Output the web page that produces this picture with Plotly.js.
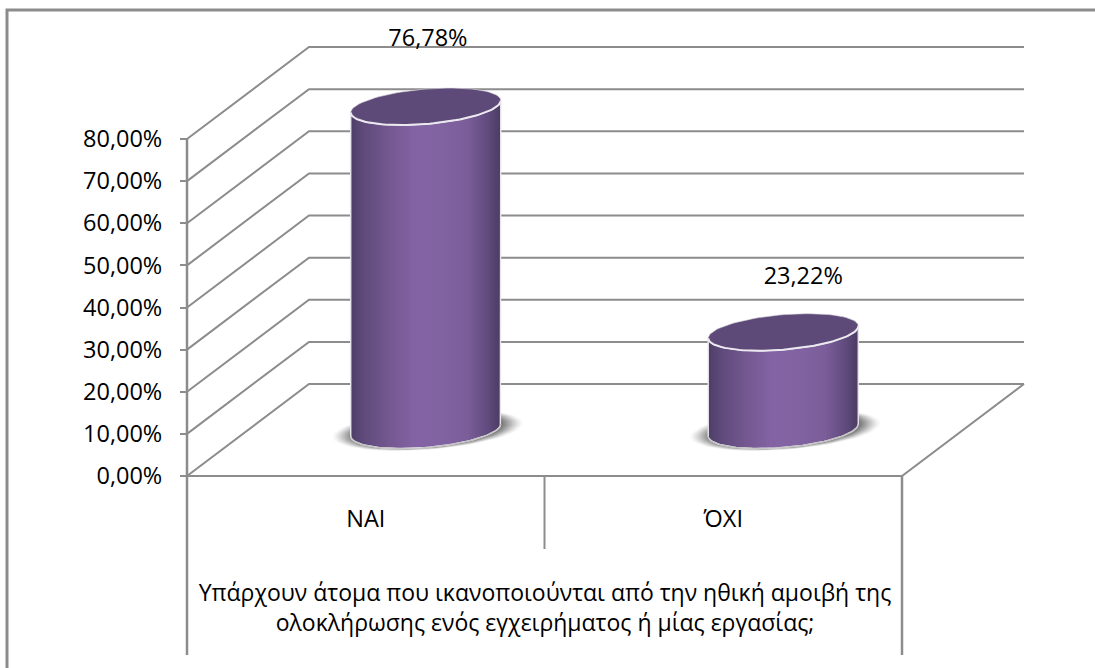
<!DOCTYPE html>
<html><head><meta charset="utf-8">
<script src="https://cdn.plot.ly/plotly-3.0.1.min.js"></script>
<style>html,body{margin:0;padding:0;background:#fff;overflow:hidden}#c{width:1095px;height:668px}</style>
</head><body><div id="c"></div>
<script>
const categories = ['ΝΑΙ', 'ΌΧΙ'];
const values = [76.78, 23.22];
const labelLift = [26.8, 23.8];
const labelShift = [0.006, 0.056];
const yTicks = [0, 10, 20, 30, 40, 50, 60, 70, 80];
const axisTitle = 'Υπάρχουν άτομα που ικανοποιούνται από την ηθική αμοιβή της<br>ολοκλήρωσης ενός εγχειρήματος ή μίας εργασίας;';

const FONT = '"Open Sans", sans-serif', FS = 23.5;
const GREY = '#8c8c8c';
const fmt = v => v.toFixed(2).replace('.', ',') + '%';
// plot geometry: the plot area spans the page, axes are placed at the chart's origin
const PW = 1090, PH = 668, OX = 187, OY = 476;
const ux = 357.5, uy = 337 / 80;
const dx = 122 / ux, dy = 92 / uy;            // depth of the 3D box
const offX = 60 / ux, offY = 46 / uy;         // cylinder centre inside depth
const A = 70.9, Bx = 24.5, By = 18.5;
const phi = Math.atan(Bx / A);

function ell(cx, cy, t, sa = 1, sb = 1) {
  return [cx + sa * (A * Math.cos(t) + Bx * Math.sin(t)) / ux,
          cy + sb * By * Math.sin(t) / uy];
}
function arc(cx, cy, t0, t1, n = 60, sa = 1, sb = 1) {
  const xs = [], ys = [];
  for (let i = 0; i <= n; i++) {
    const p = ell(cx, cy, t0 + (t1 - t0) * i / n, sa, sb);
    xs.push(p[0]); ys.push(p[1]);
  }
  return [xs, ys];
}
const line = (x, y, w, c) => ({x, y, mode: 'lines', line: {color: c || GREY, width: w || 2},
  hoverinfo: 'skip', showlegend: false});

const traces = [];
yTicks.forEach(v => {
  traces.push(line([0, dx, categories.length + dx], [v, v + dy, v + dy], 2));
});
traces.push(line([0, categories.length, categories.length + dx], [0, 0, dy], 2));
const lowY = -(655 - OY) / uy, midY = -(549 - OY) / uy;
traces.push(line([0, 0], [80, lowY], 2.5));
traces.push(line([1, 1], [0, midY], 2));
traces.push(line([2, 2], [0, lowY], 2.5));

values.forEach((v, i) => {
  const cx = i + 0.5 + offX;
  for (let k = 0; k < 16; k++) {
    const s = 1.27 - k * 0.018;
    const a = arc(cx + 2 / ux, offY, 0, 2 * Math.PI, 60, s, 1 + (s - 1) * 0.5);
    traces.push({x: a[0], y: a[1], mode: 'lines', fill: 'toself',
      fillcolor: `rgba(60,60,60,${0.02 + k * 0.006})`,
      line: {width: 0}, hoverinfo: 'skip', showlegend: false});
  }
  const top = arc(cx, offY + v, Math.PI + phi, 2 * Math.PI + phi);
  const bot = arc(cx, offY, 2 * Math.PI + phi, Math.PI + phi);
  traces.push({x: top[0].concat(bot[0], [top[0][0]]), y: top[1].concat(bot[1], [top[1][0]]),
    mode: 'lines', fill: 'toself', line: {color: '#e9e6ed', width: 1.4},
    fillgradient: {type: 'horizontal', colorscale: [
      [0, '#4d3d67'], [0.08, '#5e4a7a'], [0.25, '#73578f'], [0.42, '#8363a4'],
      [0.6, '#8263a2'], [0.78, '#7a5d99'], [0.92, '#5f4a7c'], [1, '#4b3b62']]},
    hoverinfo: 'skip', showlegend: false});
  traces.push(line(bot[0], bot[1], 1.2, '#c4c4c4'));
  const cap = arc(cx, offY + v, 0, 2 * Math.PI, 90);
  traces.push({x: cap[0], y: cap[1], mode: 'lines', fill: 'toself', fillcolor: '#5e4a78',
    line: {color: '#d9d5de', width: 0.6}, hoverinfo: 'skip', showlegend: false});
  traces.push(line(top[0], top[1], 2, '#ebe8ef'));
});

traces.push({
  x: values.map((v, i) => i + 0.5 + offX + labelShift[i]),
  y: values.map((v, i) => v + labelLift[i]),
  text: values.map(fmt),
  mode: 'text', textposition: 'middle center',
  textfont: {family: FONT, size: FS, color: '#000'},
  hoverinfo: 'skip', showlegend: false
});

const layout = {
  width: 1095, height: 668, autosize: false,
  margin: {l: 0, r: 1095 - PW, t: 0, b: 0, pad: 0},
  paper_bgcolor: '#fff', plot_bgcolor: 'rgba(0,0,0,0)',
  showlegend: false, hovermode: false,
  font: {family: FONT, size: FS, color: '#000'},
  xaxis: {
    range: [-OX / ux, (PW - OX) / ux], anchor: 'free', position: (PH - OY) / PH,
    tickmode: 'array', tickvals: categories.map((c, i) => i + 0.5), ticktext: categories,
    showgrid: false, zeroline: false, showline: false,
    ticks: '', tickfont: {family: FONT, size: FS, color: '#000'}, ticklabelstandoff: 26,
    title: {text: axisTitle, font: {family: FONT, size: 23, color: '#000'}, standoff: 52}, fixedrange: true
  },
  yaxis: {
    range: [-(PH - OY) / uy, OY / uy], anchor: 'free', position: OX / PW,
    tickmode: 'array', tickvals: yTicks, ticktext: yTicks.map(fmt),
    showgrid: false, zeroline: false, showline: false,
    ticks: 'outside', ticklen: 7, tickwidth: 2, tickcolor: GREY, ticklabelstandoff: 13, ticklabelshift: 5.5,
    tickfont: {family: FONT, size: FS, color: '#000'}, fixedrange: true
  },
  shapes: [{type: 'path', xref: 'paper', yref: 'paper', layer: 'below',
    path: `M ${7 / PW} ${1 - 680 / PH} L ${7 / PW} ${1 - 10 / PH} L ${1110 / PW} ${1 - 10 / PH}`,
    line: {color: GREY, width: 3}}]
};
Plotly.newPlot('c', traces, layout, {displayModeBar: false, staticPlot: true});
</script></body></html>
